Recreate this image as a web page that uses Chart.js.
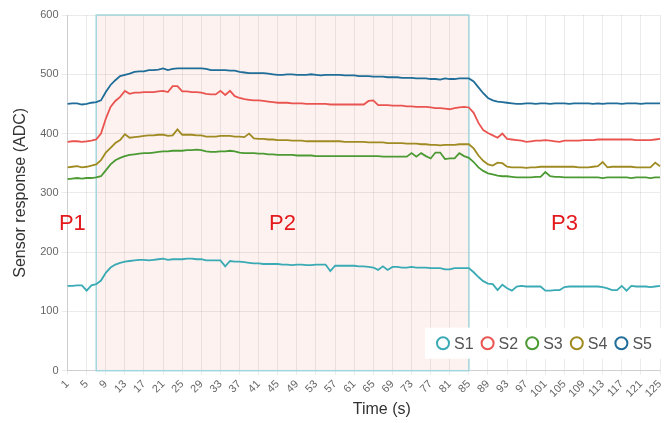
<!DOCTYPE html>
<html>
<head>
<meta charset="utf-8">
<script src="https://cdn.jsdelivr.net/npm/chart.js@4.4.0/dist/chart.umd.min.js"></script>
<style>
  html, body { margin: 0; padding: 0; background: #fff; }
  canvas { display: block; }
</style>
</head>
<body>
<canvas id="chart" width="665" height="423"></canvas>
<script>
// Time axis: 1..125 s
const timeLabels = [];
for (let t = 1; t <= 125; t++) timeLabels.push(String(t));

const seriesNames = ['S1', 'S2', 'S3', 'S4', 'S5'];

const s1 = [143,143,144,144,135,144,146,152,165,174,179,182,184,185,186,187,187,186,187,188,
  189,187,188,188,188,189,189,188,188,186,186,186,186,176,185,184,184,183,182,181,
  181,180,180,180,180,179,179,178,179,179,178,178,179,179,179,168,177,177,177,177,
  177,176,176,175,174,170,176,170,175,175,174,174,175,174,174,174,173,173,173,171,
  171,173,173,173,173,166,158,151,147,146,136,145,139,135,142,143,142,142,142,142,
  135,135,136,136,141,142,142,142,142,142,142,142,141,139,136,136,143,135,143,142,
  142,142,141,142,143];

const s2 = [386,387,387,386,387,388,390,400,425,445,455,462,472,467,469,469,470,470,470,471,
  472,470,480,480,471,471,470,470,469,467,466,466,472,465,472,463,460,458,457,456,
  456,455,454,453,452,452,452,451,451,451,450,450,450,450,450,449,449,449,449,449,
  449,449,449,455,456,448,448,448,447,447,447,446,446,445,445,445,444,443,443,442,
  441,443,444,445,444,435,418,406,401,397,393,400,391,390,389,388,386,387,388,388,
  389,388,387,386,388,388,388,388,389,389,389,390,390,390,390,390,390,390,390,389,
  389,389,389,390,391];

const s3 = [323,324,325,324,325,325,326,328,338,348,355,359,362,364,365,366,367,367,368,369,
  370,370,371,371,371,372,372,373,372,370,369,369,370,370,371,370,368,367,367,367,
  366,366,365,365,364,364,364,364,363,363,363,363,362,362,362,362,362,362,362,362,
  362,362,362,362,362,362,361,361,361,361,361,361,367,361,367,362,358,368,368,357,
  358,358,367,362,359,352,343,337,333,331,329,328,328,327,326,326,326,326,327,327,
  335,328,327,327,326,326,326,326,326,326,326,326,325,326,326,326,326,326,325,326,
  326,326,325,326,326];

const s4 = [343,344,345,343,344,346,348,355,368,376,384,389,399,393,394,395,396,397,397,398,
  398,396,397,407,398,398,398,397,397,395,395,395,396,396,396,395,395,394,400,392,
  391,391,390,390,389,389,389,388,388,388,387,387,387,387,387,387,387,387,386,386,
  386,386,386,385,385,385,385,384,384,384,384,383,383,383,382,382,381,381,380,381,
  381,381,382,382,382,375,363,354,348,346,351,350,344,343,343,343,342,343,343,344,
  344,344,344,344,344,344,344,343,343,343,344,345,352,343,344,344,344,344,344,343,
  343,343,343,351,345];

const s5 = [450,451,451,449,450,452,453,456,470,482,490,497,499,501,504,505,505,507,507,508,
  510,507,509,510,510,510,510,510,510,509,507,507,507,507,506,506,504,503,502,502,
  502,502,501,500,499,499,500,500,499,499,499,500,499,498,499,499,499,499,498,498,
  498,497,497,497,496,496,496,495,495,495,494,494,494,493,493,493,492,492,491,493,
  492,492,493,493,493,488,478,468,460,456,454,453,452,451,450,450,451,451,450,451,
  451,450,451,451,451,450,451,451,451,451,450,451,450,451,451,451,450,451,451,451,
  450,451,451,451,451];

const seriesColors = ['#3aaab5', '#ea5450', '#4c9a34', '#a08b22', '#1f6d98'];

// Phase P2 spans time 7..85
const phaseStart = '7';
const phaseEnd = '85';
const phaseNames = ['P1', 'P2', 'P3'];
const phaseAt = ['2', '46', '105'];
const phaseLevel = 248;

const allSeries = [s1, s2, s3, s4, s5];
const fontFamily = '"Liberation Sans", Arial, sans-serif';

// Shaded P2 band under the grid, borders on top of it
const phaseBand = {
  id: 'phaseBand',
  beforeDraw(chart) {
    const { ctx, chartArea, scales } = chart;
    const x0 = scales.x.getPixelForValue(timeLabels.indexOf(phaseStart));
    const x1 = scales.x.getPixelForValue(timeLabels.indexOf(phaseEnd));
    ctx.save();
    ctx.fillStyle = 'rgba(248, 200, 190, 0.24)';
    ctx.fillRect(x0, chartArea.top, x1 - x0, chartArea.bottom - chartArea.top);
    ctx.restore();
  },
  beforeDatasetsDraw(chart) {
    const { ctx, chartArea, scales } = chart;
    const x0 = scales.x.getPixelForValue(timeLabels.indexOf(phaseStart));
    const x1 = scales.x.getPixelForValue(timeLabels.indexOf(phaseEnd));
    ctx.save();
    ctx.strokeStyle = '#a3d6dc';
    ctx.lineWidth = 1.5;
    ctx.strokeRect(x0, chartArea.top, x1 - x0, chartArea.bottom - chartArea.top);
    ctx.restore();
  }
};

// P1 / P2 / P3 labels
const phaseText = {
  id: 'phaseText',
  afterDatasetsDraw(chart) {
    const { ctx, scales } = chart;
    ctx.save();
    ctx.fillStyle = '#e3191c';
    ctx.font = '22px ' + fontFamily;
    ctx.textAlign = 'center';
    ctx.textBaseline = 'middle';
    phaseNames.forEach((name, i) => {
      const x = scales.x.getPixelForValue(timeLabels.indexOf(phaseAt[i]));
      ctx.fillText(name, x, scales.y.getPixelForValue(phaseLevel));
    });
    ctx.restore();
  }
};

// Legend box in the lower right corner of the plot, x title under the ticks
const boxLegend = {
  id: 'boxLegend',
  afterDatasetsDraw(chart) {
    const { ctx, chartArea } = chart;
    const itemW = 44.6;
    const boxW = itemW * chart.data.datasets.length + 14;
    const boxH = 31;
    const bx = chartArea.right - boxW + 2;
    const by = chartArea.bottom - 43;
    ctx.save();
    ctx.fillStyle = '#fff';
    ctx.fillRect(bx, by, boxW, boxH);
    ctx.font = '16px ' + fontFamily;
    ctx.textBaseline = 'middle';
    ctx.textAlign = 'left';
    chart.data.datasets.forEach((ds, i) => {
      const cx = bx + 18 + i * itemW;
      const cy = by + boxH / 2;
      ctx.beginPath();
      ctx.arc(cx, cy, 6, 0, Math.PI * 2);
      ctx.fillStyle = '#fff';
      ctx.fill();
      ctx.lineWidth = 2;
      ctx.strokeStyle = ds.borderColor;
      ctx.stroke();
      ctx.fillStyle = '#555';
      ctx.fillText(ds.label, cx + 11, cy + 1);
    });
    ctx.restore();
  },
  afterDraw(chart) {
    const { ctx, chartArea } = chart;
    ctx.save();
    ctx.fillStyle = '#333';
    ctx.font = '16px ' + fontFamily;
    ctx.textAlign = 'center';
    ctx.textBaseline = 'middle';
    ctx.fillText('Time (s)', (chartArea.left + chartArea.right) / 2 + 18, chart.height - 13);
    ctx.restore();
  }
};

const gridColor = 'rgba(0, 0, 0, 0.08)';

new Chart(document.getElementById('chart'), {
  type: 'line',
  data: {
    labels: timeLabels,
    datasets: allSeries.map((vals, i) => ({
      label: seriesNames[i],
      data: vals,
      borderColor: seriesColors[i],
      backgroundColor: '#fff',
      borderWidth: 1.8,
      pointRadius: 0,
      tension: 0,
      fill: false
    }))
  },
  options: {
    responsive: false,
    animation: false,
    layout: { padding: { left: 11, right: 5, top: 15, bottom: 20 } },
    plugins: {
      legend: { display: false },
      tooltip: { enabled: false }
    },
    scales: {
      x: {
        afterFit: scale => { scale.paddingRight = 0; },
        grid: {
          color: ctx => (ctx.index % 4 === 0 ? gridColor : 'transparent'),
          tickLength: 4
        },
        border: { color: 'rgba(0,0,0,0.12)' },
        ticks: {
          autoSkip: false,
          maxRotation: 45,
          minRotation: 45,
          color: '#666',
          font: { size: 11, family: fontFamily },
          callback: (v, i) => (i % 4 === 0 ? timeLabels[i] : '')
        }
      },
      y: {
        min: 0,
        max: 600,
        grid: { color: gridColor, tickLength: 6 },
        border: { color: 'rgba(0,0,0,0.12)' },
        ticks: {
          stepSize: 100,
          color: '#666',
          font: { size: 11, family: fontFamily }
        },
        title: {
          display: true,
          text: 'Sensor response (ADC)',
          color: '#333',
          font: { size: 16, family: fontFamily },
          padding: { top: 0, bottom: 7 }
        }
      }
    }
  },
  plugins: [phaseBand, phaseText, boxLegend]
});
</script>
</body>
</html>
